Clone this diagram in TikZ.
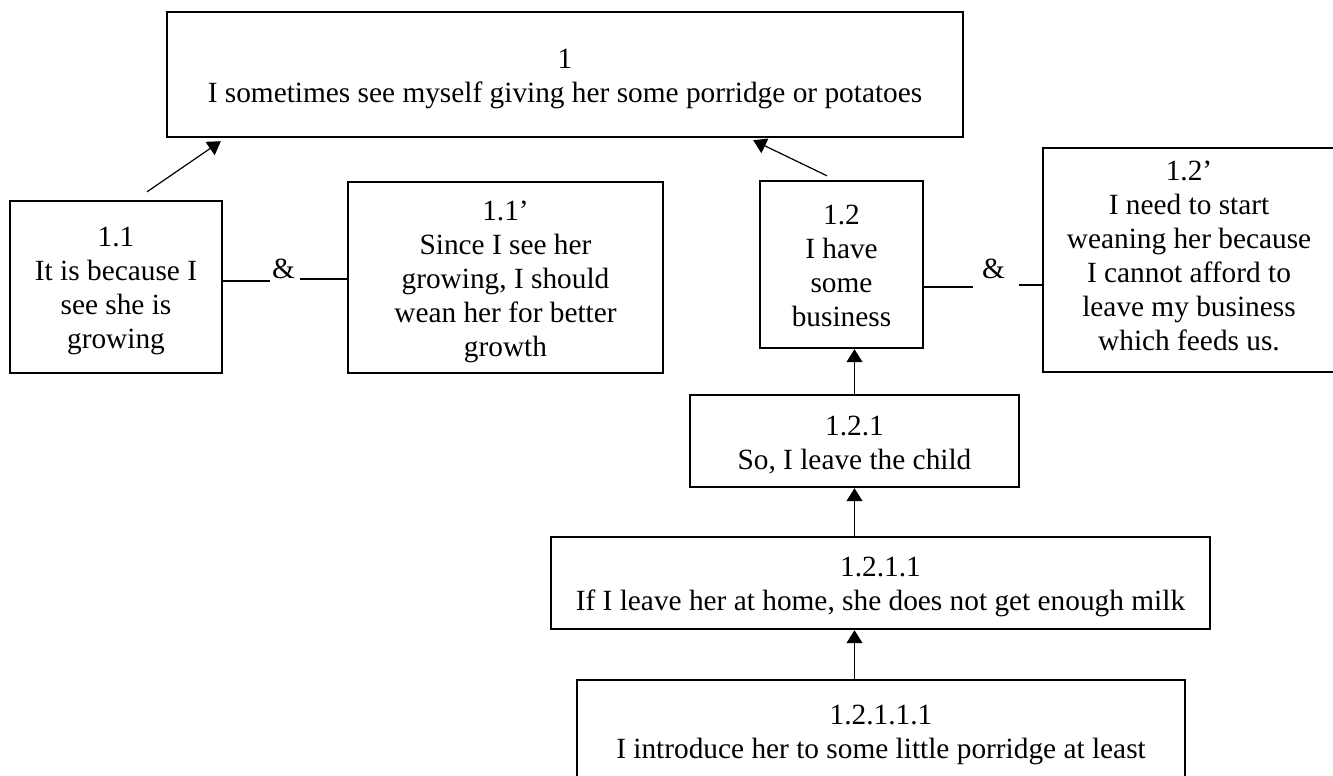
\documentclass[tikz,border=0pt]{standalone}
\usepackage{fontspec}
\newfontfamily\tnr{Liberation Serif}
\usetikzlibrary{arrows.meta}
\newdimen\pxu
\pxu=0.75pt
% invisible strut that lowers a block of lines inside its box
\newcommand\toprow[1][21pt]{\rule{0pt}{#1}}
\tikzset{
  lastline/.style={execute at end node={\rule[-#1]{0pt}{0pt}}},
  argbox/.style={draw, line width=1.8pt, inner sep=0pt, align=center,
    font=\tnr\fontsize{22}{25.5}\selectfont},
  ampsign/.style={inner sep=0pt, anchor=base, font=\tnr\fontsize{22}{25.5}\selectfont},
  arr/.style={line width=0.9pt, -{Triangle[length=9.75pt,width=12pt]}},
  link/.style={line width=0.8pt}
}
\begin{document}
\begin{tikzpicture}[x=0.75pt, y=-0.75pt]
\fill[white] (0,0) rectangle (1333,775);
\useasboundingbox (0,0) rectangle (1333,775);

% claims
\node[argbox, minimum width=796\pxu, minimum height=125\pxu] (b1) at (565,74.5)
  {\toprow 1\\I sometimes see myself giving her some porridge or potatoes};
\node[argbox, minimum width=212\pxu, minimum height=172\pxu] (b11) at (116,287)
  {\toprow 1.1\\It is because I\\see she is\\growing};
\node[argbox, minimum width=315\pxu, minimum height=191\pxu] (b11p) at (505.5,277.5)
  {\toprow 1.1’\\Since I see her\\growing, I should\\wean her for better\\growth};
\node[argbox, minimum width=163\pxu, minimum height=167\pxu] (b12) at (841.5,264.5)
  {\toprow[17pt]1.2\\I have\\some\\business};
\node[argbox, lastline=7pt, minimum width=292\pxu, minimum height=224\pxu] (b12p) at (1189,260)
  {1.2’\\I need to start\\weaning her because\\I cannot afford to\\leave my business\\which feeds us.};
\node[argbox, minimum width=329\pxu, minimum height=92\pxu] (b121) at (854.5,441)
  {\toprow 1.2.1\\So, I leave the child};
\node[argbox, minimum width=659\pxu, minimum height=92\pxu] (b1211) at (880.5,583)
  {\toprow 1.2.1.1\\If I leave her at home, she does not get enough milk};
\node[argbox, minimum width=608\pxu, minimum height=102\pxu] (b12111) at (881,731)
  {\toprow 1.2.1.1.1\\I introduce her to some little porridge at least};

% support arrows
\draw[arr] ([shift={(31,-8)}]b11.north) -- ([shift={(55,3)}]b1.south west);
\draw[arr] ([shift={(-14.5,-4)}]b12.north) -- ([shift={(-211,2)}]b1.south east);
\draw[arr] (b121.north) -- (b121.north |- b12.south);
\draw[arr] (b1211.north -| b121.north) -- (b121.south);
\draw[arr] (b12111.north -| b121.north) -- (b1211.south -| b121.north);

% linked premises
\node[ampsign] (a1) at (283.5,278) {\&};
\node[ampsign] (a2) at (993.5,278) {\&};
\coordinate (l1a) at (270,281);
\coordinate (l1b) at (300,279);
\coordinate (l2a) at (973,287);
\coordinate (l2b) at (1019,285);
\draw[link] (b11.east |- l1a) -- (l1a);
\draw[link] (l1b) -- (b11p.west |- l1b);
\draw[link] (b12.east |- l2a) -- (l2a);
\draw[link] (l2b) -- (b12p.west |- l2b);
\end{tikzpicture}
\end{document}
